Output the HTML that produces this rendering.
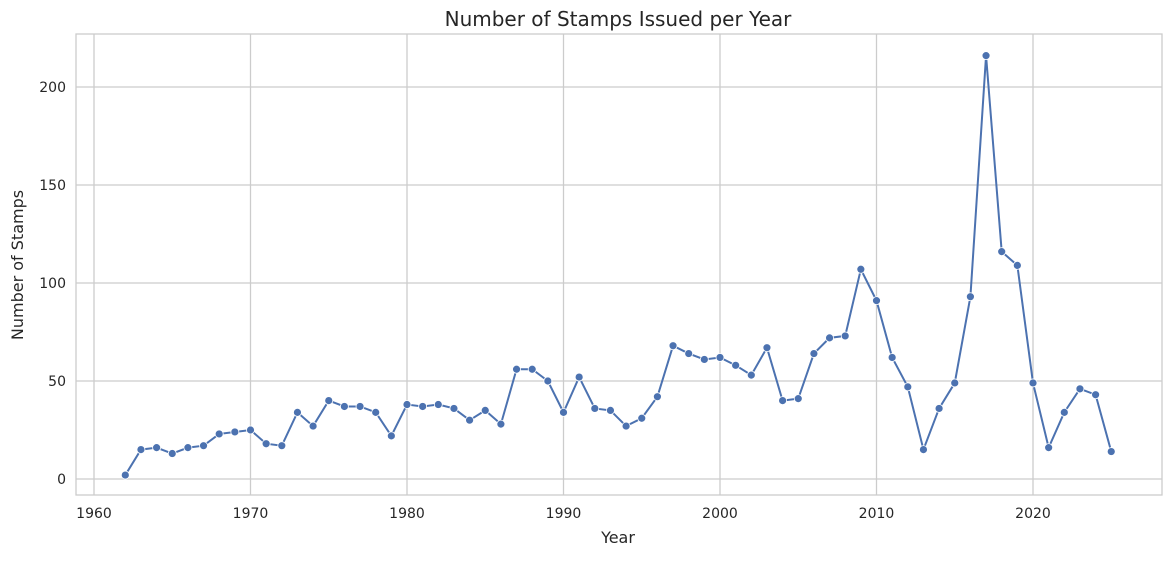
<!DOCTYPE html>
<html><head><meta charset="utf-8">
<style>
body{margin:0;background:#fff;font-family:"Liberation Sans","DejaVu Sans",sans-serif;}
svg text{font-family:"DejaVu Sans","Liberation Sans",sans-serif;fill:#262626;}
</style></head>
<body>
<svg id="chart" width="1170" height="558">
<text x="618" y="26" font-size="20" text-anchor="middle">Number of Stamps Issued per Year</text>
<g id="grid"></g>
<rect x="76" y="34" width="1086" height="461" fill="none" stroke="#cccccc" stroke-width="1.3"/>
<g id="ticks"></g>
<g id="series"></g>
<text x="618" y="543" font-size="16" text-anchor="middle">Year</text>
<text transform="translate(23,265) rotate(-90)" font-size="16" text-anchor="middle">Number of Stamps</text>
</svg>
<script>
const years=[1962,1963,1964,1965,1966,1967,1968,1969,1970,1971,1972,1973,1974,1975,1976,1977,1978,1979,1980,1981,1982,1983,1984,1985,1986,1987,1988,1989,1990,1991,1992,1993,1994,1995,1996,1997,1998,1999,2000,2001,2002,2003,2004,2005,2006,2007,2008,2009,2010,2011,2012,2013,2014,2015,2016,2017,2018,2019,2020,2021,2022,2023,2024,2025];
const counts=[2,15,16,13,16,17,23,24,25,18,17,34,27,40,37,37,34,22,38,37,38,36,30,35,28,56,56,50,34,52,36,35,27,31,42,68,64,61,62,58,53,67,40,41,64,72,73,107,91,62,47,15,36,49,93,216,116,109,49,16,34,46,43,14];
const xTicks=[1960,1970,1980,1990,2000,2010,2020];
const yTicks=[0,50,100,150,200];
const NS="http://www.w3.org/2000/svg";
function xs(v){return 94+(v-1960)*15.65;}
function ys(v){return 479-v*1.96;}
const grid=document.getElementById('grid'),ticks=document.getElementById('ticks'),series=document.getElementById('series');
function mk(t,a,p){const e=document.createElementNS(NS,t);for(const k in a)e.setAttribute(k,a[k]);p.appendChild(e);return e;}
xTicks.forEach(v=>{
 const l=mk('line',{x1:xs(v),x2:xs(v),y1:34,y2:495,stroke:'#cccccc','stroke-width':1.3},grid);
 
 
 const t=mk('text',{x:xs(v),y:518,'font-size':14,'text-anchor':'middle'},ticks);t.textContent=v;
 
 
});
yTicks.forEach(v=>{
 const l=mk('line',{x1:76,x2:1162,y1:ys(v),y2:ys(v),stroke:'#cccccc','stroke-width':1.3},grid);
 
 
 const t=mk('text',{x:66,y:ys(v)+5,'font-size':14,'text-anchor':'end'},ticks);t.textContent=v;
 
 
});
const path=mk('polyline',{points:years.map((y,i)=>xs(y)+','+ys(counts[i])).join(' '),fill:'none',stroke:'#4c72b0','stroke-width':2},series);


years.forEach((y,i)=>{
 const c=mk('circle',{cx:xs(y),cy:ys(counts[i]),r:4,fill:'#4c72b0',stroke:'#fff','stroke-width':0.8},series);
 
 
});
</script>
</body></html>
